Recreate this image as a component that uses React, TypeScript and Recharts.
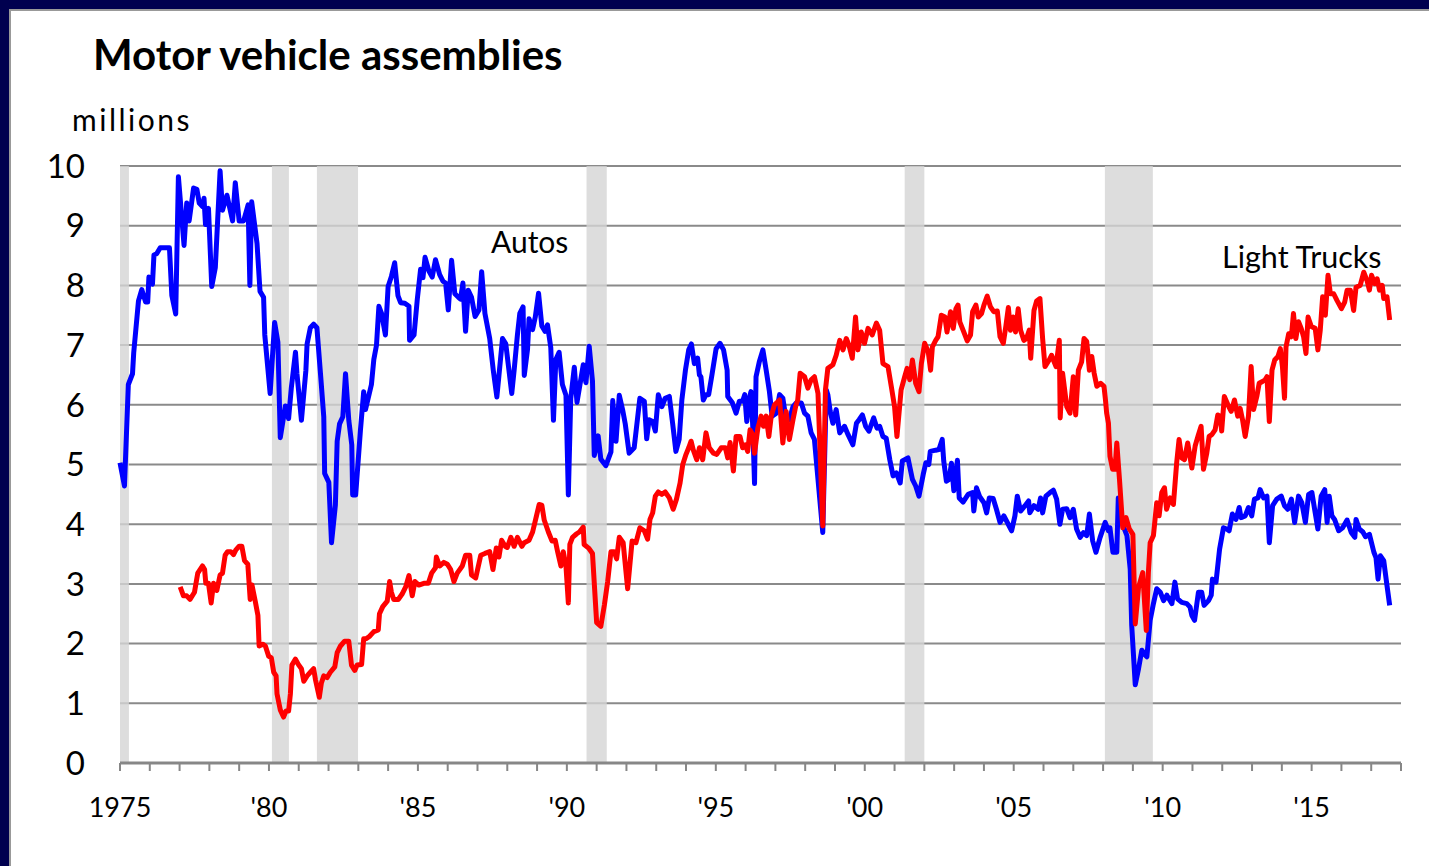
import { LineChart, Line, XAxis, YAxis, CartesianGrid, ReferenceArea } from 'recharts'

// [decimal year, millions of units]
const autos: [number, number][] = [
  [1975.0, 5.03], [1975.15, 4.64], [1975.28, 6.34], [1975.42, 6.52], [1975.46, 6.87], [1975.62, 7.74],
  [1975.73, 7.93], [1975.86, 7.72], [1975.93, 7.72], [1975.97, 8.14], [1976.09, 8.02], [1976.14, 8.51],
  [1976.23, 8.53], [1976.35, 8.63], [1976.66, 8.63], [1976.74, 7.83], [1976.87, 7.52], [1976.96, 9.82],
  [1977.15, 8.67], [1977.24, 9.38], [1977.32, 9.08], [1977.47, 9.63], [1977.58, 9.61], [1977.66, 9.38],
  [1977.77, 9.32], [1977.82, 9.46], [1977.87, 9.02], [1977.97, 9.29], [1978.08, 7.98], [1978.2, 8.3],
  [1978.36, 9.92], [1978.44, 9.26], [1978.59, 9.51], [1978.78, 9.08], [1978.87, 9.72], [1979.0, 9.08],
  [1979.15, 9.08], [1979.3, 9.35], [1979.36, 8.0], [1979.42, 9.4], [1979.6, 8.7], [1979.7, 7.9],
  [1979.82, 7.8], [1979.86, 7.17], [1980.04, 6.19], [1980.19, 7.38], [1980.3, 7.05], [1980.38, 5.45],
  [1980.55, 5.98], [1980.66, 5.77], [1980.75, 6.28], [1980.89, 6.88], [1980.94, 6.52], [1981.09, 5.74],
  [1981.24, 6.58], [1981.28, 7.02], [1981.39, 7.29], [1981.5, 7.35], [1981.61, 7.29], [1981.73, 6.52],
  [1981.84, 5.8], [1981.87, 4.85], [1982.01, 4.7], [1982.1, 3.69], [1982.23, 4.32], [1982.29, 5.39],
  [1982.37, 5.68], [1982.48, 5.8], [1982.57, 6.52], [1982.68, 5.74], [1982.78, 5.33], [1982.81, 4.49],
  [1982.91, 4.49], [1983.07, 5.57], [1983.18, 6.22], [1983.24, 5.92], [1983.44, 6.34], [1983.52, 6.76],
  [1983.61, 7.0], [1983.69, 7.65], [1983.78, 7.53], [1983.91, 7.17], [1984.0, 7.98], [1984.11, 8.15],
  [1984.22, 8.38], [1984.33, 7.83], [1984.42, 7.71], [1984.56, 7.7], [1984.7, 7.65], [1984.72, 7.08],
  [1984.87, 7.17], [1984.98, 7.77], [1985.09, 8.27], [1985.17, 8.13], [1985.24, 8.47], [1985.37, 8.24],
  [1985.48, 8.14], [1985.59, 8.43], [1985.73, 8.18], [1985.84, 8.07], [1985.93, 8.04], [1986.02, 7.59],
  [1986.13, 8.42], [1986.24, 7.86], [1986.36, 7.8], [1986.43, 7.77], [1986.51, 8.04], [1986.6, 7.23],
  [1986.69, 7.92], [1986.8, 7.8], [1986.92, 7.48], [1987.05, 7.59], [1987.14, 8.23], [1987.25, 7.53],
  [1987.41, 7.11], [1987.53, 6.58], [1987.65, 6.13], [1987.72, 6.49], [1987.84, 7.11], [1987.95, 7.02],
  [1988.15, 6.19], [1988.23, 6.58], [1988.34, 7.17], [1988.42, 7.53], [1988.53, 7.64], [1988.57, 6.49],
  [1988.68, 6.93], [1988.73, 7.44], [1988.85, 7.26], [1988.94, 7.47], [1989.05, 7.87], [1989.16, 7.32],
  [1989.27, 7.23], [1989.35, 7.34], [1989.46, 6.96], [1989.55, 5.74], [1989.63, 6.76], [1989.74, 6.88],
  [1989.85, 6.34], [1989.97, 6.16], [1990.05, 4.49], [1990.13, 6.1], [1990.25, 6.63], [1990.34, 6.04],
  [1990.44, 6.34], [1990.55, 6.67], [1990.64, 6.37], [1990.75, 6.98], [1990.86, 6.4], [1990.92, 5.15],
  [1991.05, 5.48], [1991.14, 5.09], [1991.31, 4.98], [1991.48, 5.21], [1991.54, 6.07], [1991.65, 5.39],
  [1991.76, 6.16], [1991.87, 5.92], [1991.96, 5.68], [1992.09, 5.19], [1992.26, 5.28], [1992.45, 6.11],
  [1992.6, 6.06], [1992.68, 5.43], [1992.76, 5.75], [1992.88, 5.72], [1992.97, 5.56], [1993.07, 6.17],
  [1993.19, 5.97], [1993.3, 6.11], [1993.44, 6.14], [1993.55, 5.69], [1993.66, 5.22], [1993.77, 5.42],
  [1993.86, 6.08], [1993.98, 6.58], [1994.09, 6.92], [1994.18, 7.02], [1994.28, 6.69], [1994.39, 6.78],
  [1994.45, 6.5], [1994.5, 6.47], [1994.58, 6.08], [1994.67, 6.17], [1994.76, 6.17], [1994.87, 6.5],
  [1995.01, 6.94], [1995.14, 7.03], [1995.26, 6.92], [1995.38, 6.58], [1995.4, 6.14], [1995.55, 6.04],
  [1995.68, 5.86], [1995.79, 6.06], [1995.9, 6.06], [1995.97, 6.17], [1996.04, 5.72], [1996.11, 6.08],
  [1996.18, 6.22], [1996.24, 5.64], [1996.3, 4.68], [1996.35, 6.47], [1996.46, 6.72], [1996.58, 6.92],
  [1996.69, 6.58], [1996.8, 6.22], [1996.89, 5.81], [1997.03, 5.86], [1997.14, 6.17], [1997.25, 6.11],
  [1997.36, 5.75], [1997.47, 5.75], [1997.59, 5.97], [1997.7, 6.03], [1997.87, 6.03], [1997.98, 5.86],
  [1998.09, 5.81], [1998.2, 5.53], [1998.31, 5.42], [1998.59, 3.86], [1998.71, 6.25], [1998.76, 6.17],
  [1998.84, 5.89], [1998.93, 5.69], [1999.04, 5.92], [1999.16, 5.53], [1999.32, 5.64], [1999.44, 5.5],
  [1999.6, 5.33], [1999.72, 5.69], [1999.81, 5.75], [1999.92, 5.83], [2000.03, 5.64], [2000.14, 5.56],
  [2000.3, 5.78], [2000.41, 5.61], [2000.5, 5.64], [2000.61, 5.47], [2000.72, 5.44], [2000.84, 5.08],
  [2000.95, 4.81], [2001.06, 4.86], [2001.19, 4.69], [2001.26, 5.06], [2001.45, 5.11], [2001.6, 4.75],
  [2001.71, 4.64], [2001.82, 4.47], [2001.96, 4.83], [2002.05, 5.03], [2002.15, 5.0], [2002.2, 5.22],
  [2002.38, 5.24], [2002.49, 5.25], [2002.6, 5.42], [2002.65, 5.06], [2002.74, 4.72], [2002.83, 4.75],
  [2002.91, 5.02], [2002.99, 4.56], [2003.11, 5.07], [2003.17, 4.44], [2003.3, 4.37], [2003.47, 4.5],
  [2003.62, 4.53], [2003.66, 4.22], [2003.75, 4.61], [2003.86, 4.46], [2004.0, 4.36], [2004.09, 4.19],
  [2004.18, 4.44], [2004.31, 4.43], [2004.42, 4.25], [2004.54, 4.03], [2004.67, 4.14], [2004.93, 3.89],
  [2005.04, 4.14], [2005.12, 4.47], [2005.23, 4.22], [2005.38, 4.31], [2005.5, 4.39], [2005.54, 4.19],
  [2005.68, 4.31], [2005.82, 4.25], [2005.9, 4.44], [2005.97, 4.19], [2006.08, 4.47], [2006.22, 4.53],
  [2006.33, 4.57], [2006.44, 4.42], [2006.55, 4.0], [2006.64, 4.25], [2006.78, 4.26], [2006.89, 4.11],
  [2007.0, 4.25], [2007.11, 3.92], [2007.23, 3.78], [2007.34, 3.86], [2007.45, 3.81], [2007.54, 4.17],
  [2007.65, 3.72], [2007.76, 3.53], [2007.9, 3.78], [2008.07, 4.03], [2008.18, 3.89], [2008.23, 3.94],
  [2008.33, 3.53], [2008.46, 3.53], [2008.51, 4.44], [2008.63, 4.03], [2008.8, 3.81], [2008.91, 3.25],
  [2008.96, 2.31], [2009.08, 1.31], [2009.19, 1.58], [2009.3, 1.89], [2009.41, 1.81], [2009.47, 1.78],
  [2009.58, 2.39], [2009.69, 2.67], [2009.8, 2.92], [2009.92, 2.86], [2010.03, 2.72], [2010.14, 2.81],
  [2010.31, 2.67], [2010.41, 3.03], [2010.5, 2.75], [2010.64, 2.69], [2010.81, 2.67], [2010.92, 2.61],
  [2010.98, 2.47], [2011.07, 2.39], [2011.2, 2.86], [2011.31, 2.86], [2011.39, 2.64], [2011.54, 2.72],
  [2011.63, 2.81], [2011.67, 3.08], [2011.79, 3.03], [2011.91, 3.58], [2012.04, 3.94], [2012.15, 3.92],
  [2012.23, 3.89], [2012.34, 4.17], [2012.46, 4.08], [2012.57, 4.28], [2012.63, 4.11], [2012.77, 4.14],
  [2012.88, 4.28], [2012.99, 4.14], [2013.08, 4.42], [2013.2, 4.44], [2013.27, 4.58], [2013.39, 4.44],
  [2013.5, 4.47], [2013.58, 3.69], [2013.69, 4.31], [2013.83, 4.42], [2013.98, 4.47], [2014.09, 4.31],
  [2014.2, 4.25], [2014.32, 4.42], [2014.43, 4.03], [2014.56, 4.47], [2014.67, 4.36], [2014.79, 4.03],
  [2014.9, 4.5], [2015.01, 4.53], [2015.12, 4.19], [2015.21, 3.92], [2015.32, 4.47], [2015.44, 4.58],
  [2015.52, 4.03], [2015.59, 4.47], [2015.68, 4.14], [2015.77, 4.08], [2015.91, 3.89], [2016.04, 3.94],
  [2016.19, 4.07], [2016.33, 3.86], [2016.45, 3.78], [2016.49, 4.08], [2016.6, 3.92], [2016.72, 3.87],
  [2016.81, 3.79], [2016.94, 3.83], [2017.09, 3.53], [2017.16, 3.44], [2017.23, 3.08], [2017.31, 3.47],
  [2017.42, 3.39], [2017.53, 2.97], [2017.62, 2.64],
]

const lightTrucks: [number, number][] = [
  [1977.02, 2.95], [1977.13, 2.8], [1977.24, 2.8], [1977.35, 2.74], [1977.5, 2.86], [1977.61, 3.18],
  [1977.77, 3.3], [1977.84, 3.24], [1977.88, 3.01], [1977.97, 3.01], [1978.06, 2.68], [1978.14, 3.01],
  [1978.25, 2.89], [1978.36, 3.15], [1978.44, 3.18], [1978.53, 3.48], [1978.61, 3.54], [1978.72, 3.54],
  [1978.81, 3.49], [1978.89, 3.57], [1979.0, 3.63], [1979.09, 3.63], [1979.18, 3.39], [1979.29, 3.33],
  [1979.37, 2.74], [1979.43, 2.98], [1979.54, 2.71], [1979.63, 2.47], [1979.67, 1.96], [1979.79, 1.99],
  [1979.88, 1.96], [1979.99, 1.79], [1980.08, 1.76], [1980.16, 1.52], [1980.24, 1.46], [1980.27, 1.16],
  [1980.38, 0.89], [1980.49, 0.77], [1980.57, 0.87], [1980.66, 0.87], [1980.72, 1.16], [1980.77, 1.64],
  [1980.89, 1.74], [1981.0, 1.64], [1981.09, 1.58], [1981.17, 1.37], [1981.28, 1.46], [1981.39, 1.52],
  [1981.5, 1.58], [1981.56, 1.4], [1981.69, 1.1], [1981.76, 1.34], [1981.84, 1.46], [1981.95, 1.43],
  [1982.06, 1.52], [1982.21, 1.61], [1982.29, 1.85], [1982.4, 1.96], [1982.54, 2.04], [1982.68, 2.04],
  [1982.77, 1.64], [1982.88, 1.55], [1982.96, 1.64], [1983.11, 1.65], [1983.18, 2.08], [1983.26, 2.08],
  [1983.37, 2.12], [1983.52, 2.2], [1983.67, 2.23], [1983.71, 2.5], [1983.82, 2.62], [1983.97, 2.71],
  [1984.05, 3.04], [1984.11, 2.86], [1984.19, 2.74], [1984.34, 2.74], [1984.47, 2.83], [1984.59, 2.95],
  [1984.7, 3.14], [1984.81, 2.8], [1984.9, 3.04], [1985.03, 2.98], [1985.2, 3.01], [1985.35, 3.01],
  [1985.46, 3.18], [1985.59, 3.27], [1985.62, 3.45], [1985.73, 3.3], [1985.87, 3.36], [1985.99, 3.33],
  [1986.1, 3.24], [1986.21, 3.04], [1986.32, 3.18], [1986.49, 3.3], [1986.6, 3.48], [1986.74, 3.48],
  [1986.8, 3.15], [1986.94, 3.1], [1987.11, 3.48], [1987.25, 3.51], [1987.41, 3.54], [1987.52, 3.24],
  [1987.63, 3.6], [1987.72, 3.45], [1987.81, 3.73], [1987.93, 3.63], [1988.0, 3.61], [1988.12, 3.78],
  [1988.23, 3.63], [1988.34, 3.78], [1988.49, 3.63], [1988.57, 3.69], [1988.73, 3.73], [1988.85, 3.87],
  [1988.98, 4.14], [1989.07, 4.33], [1989.16, 4.32], [1989.24, 4.07], [1989.38, 3.87], [1989.5, 3.72],
  [1989.61, 3.73], [1989.69, 3.54], [1989.8, 3.3], [1989.88, 3.54], [1989.97, 3.3], [1990.05, 2.68],
  [1990.1, 3.66], [1990.19, 3.78], [1990.33, 3.84], [1990.42, 3.87], [1990.55, 3.95], [1990.58, 3.66],
  [1990.73, 3.6], [1990.86, 3.51], [1991.0, 2.35], [1991.14, 2.29], [1991.26, 2.65], [1991.37, 3.04],
  [1991.48, 3.54], [1991.59, 3.54], [1991.67, 3.42], [1991.76, 3.78], [1991.89, 3.69], [1992.04, 2.92],
  [1992.19, 3.72], [1992.32, 3.69], [1992.45, 3.94], [1992.6, 3.89], [1992.71, 3.75], [1992.79, 4.08],
  [1992.88, 4.19], [1992.97, 4.47], [1993.07, 4.54], [1993.19, 4.5], [1993.3, 4.54], [1993.44, 4.44],
  [1993.57, 4.25], [1993.68, 4.42], [1993.8, 4.69], [1993.89, 5.0], [1994.0, 5.17], [1994.09, 5.28],
  [1994.17, 5.39], [1994.24, 5.25], [1994.36, 5.08], [1994.45, 5.28], [1994.56, 5.08], [1994.67, 5.53],
  [1994.78, 5.28], [1994.92, 5.19], [1995.03, 5.17], [1995.18, 5.28], [1995.32, 5.28], [1995.4, 5.11],
  [1995.48, 5.37], [1995.59, 4.89], [1995.68, 5.47], [1995.81, 5.47], [1995.9, 5.28], [1995.99, 5.33],
  [1996.07, 5.22], [1996.15, 5.58], [1996.24, 5.5], [1996.3, 5.19], [1996.41, 5.61], [1996.52, 5.81],
  [1996.6, 5.64], [1996.69, 5.81], [1996.78, 5.47], [1996.86, 5.81], [1996.97, 6.0], [1997.14, 6.08],
  [1997.25, 5.36], [1997.36, 5.89], [1997.47, 5.42], [1997.59, 5.75], [1997.68, 5.97], [1997.75, 6.08],
  [1997.83, 6.53], [1997.98, 6.47], [1998.09, 6.28], [1998.2, 6.42], [1998.31, 6.47], [1998.43, 6.19],
  [1998.59, 3.97], [1998.68, 6.25], [1998.76, 6.61], [1998.93, 6.67], [1999.04, 6.83], [1999.16, 7.08],
  [1999.27, 6.92], [1999.38, 7.11], [1999.47, 7.0], [1999.58, 6.78], [1999.69, 7.47], [1999.77, 6.92],
  [1999.88, 7.22], [1999.99, 7.03], [2000.11, 7.28], [2000.25, 7.17], [2000.39, 7.37], [2000.5, 7.25],
  [2000.61, 6.69], [2000.78, 6.64], [2000.89, 6.31], [2001.0, 5.97], [2001.08, 5.47], [2001.17, 5.97],
  [2001.22, 6.25], [2001.34, 6.47], [2001.42, 6.61], [2001.51, 6.42], [2001.6, 6.75], [2001.71, 6.36],
  [2001.82, 6.22], [2001.9, 6.69], [2002.01, 7.03], [2002.13, 6.89], [2002.21, 6.58], [2002.27, 6.97],
  [2002.38, 7.08], [2002.46, 7.14], [2002.57, 7.5], [2002.69, 7.47], [2002.76, 7.22], [2002.88, 7.56],
  [2002.97, 7.28], [2003.06, 7.61], [2003.13, 7.67], [2003.19, 7.39], [2003.3, 7.25], [2003.44, 7.07],
  [2003.55, 7.17], [2003.62, 7.56], [2003.73, 7.67], [2003.81, 7.47], [2003.92, 7.53], [2004.0, 7.67],
  [2004.11, 7.82], [2004.22, 7.64], [2004.33, 7.56], [2004.45, 7.57], [2004.54, 7.14], [2004.65, 7.03],
  [2004.74, 7.33], [2004.82, 7.63], [2004.89, 7.25], [2004.98, 7.47], [2005.06, 7.22], [2005.15, 7.61],
  [2005.23, 7.25], [2005.34, 7.08], [2005.43, 7.11], [2005.52, 7.25], [2005.57, 6.78], [2005.68, 7.58],
  [2005.77, 7.74], [2005.88, 7.78], [2005.97, 7.11], [2006.05, 6.64], [2006.19, 6.75], [2006.27, 6.83],
  [2006.42, 6.64], [2006.53, 7.08], [2006.56, 5.78], [2006.64, 6.53], [2006.78, 5.97], [2006.89, 5.86],
  [2007.0, 6.47], [2007.08, 5.83], [2007.17, 6.58], [2007.28, 6.72], [2007.36, 7.11], [2007.45, 7.06],
  [2007.54, 6.58], [2007.62, 6.81], [2007.7, 6.53], [2007.79, 6.31], [2007.92, 6.36], [2008.03, 6.31],
  [2008.08, 6.08], [2008.12, 5.86], [2008.18, 5.69], [2008.23, 5.14], [2008.32, 4.92], [2008.4, 4.92],
  [2008.46, 5.36], [2008.55, 4.75], [2008.66, 3.94], [2008.77, 4.11], [2008.88, 3.92], [2009.0, 3.83],
  [2009.08, 2.33], [2009.19, 2.94], [2009.33, 3.19], [2009.45, 2.22], [2009.52, 3.19], [2009.58, 3.69],
  [2009.69, 3.81], [2009.8, 4.36], [2009.88, 4.14], [2009.97, 4.53], [2010.06, 4.61], [2010.13, 4.25],
  [2010.25, 4.44], [2010.36, 4.33], [2010.47, 5.03], [2010.55, 5.42], [2010.64, 5.11], [2010.73, 5.08],
  [2010.84, 5.36], [2010.98, 4.94], [2011.09, 5.31], [2011.2, 5.5], [2011.29, 5.64], [2011.37, 4.92],
  [2011.48, 5.19], [2011.56, 5.47], [2011.65, 5.5], [2011.76, 5.58], [2011.85, 5.83], [2011.93, 5.81],
  [2011.98, 5.56], [2012.07, 6.14], [2012.19, 6.0], [2012.3, 5.89], [2012.41, 6.08], [2012.52, 5.81],
  [2012.6, 5.94], [2012.68, 5.75], [2012.77, 5.47], [2012.88, 5.81], [2012.97, 6.64], [2013.05, 5.92],
  [2013.16, 6.14], [2013.24, 6.36], [2013.35, 6.39], [2013.44, 6.42], [2013.5, 6.47], [2013.58, 5.72],
  [2013.67, 6.58], [2013.76, 6.75], [2013.87, 6.81], [2013.95, 6.94], [2014.02, 6.64], [2014.09, 6.11],
  [2014.14, 6.97], [2014.23, 7.19], [2014.32, 7.14], [2014.39, 7.53], [2014.47, 7.11], [2014.56, 7.39],
  [2014.65, 7.28], [2014.73, 7.14], [2014.81, 6.86], [2014.88, 7.47], [2014.99, 7.31], [2015.12, 7.28],
  [2015.21, 6.92], [2015.29, 7.25], [2015.37, 7.81], [2015.46, 7.5], [2015.55, 8.17], [2015.63, 7.86],
  [2015.74, 7.86], [2015.85, 7.75], [2016.0, 7.61], [2016.11, 7.72], [2016.19, 7.92], [2016.3, 7.92],
  [2016.41, 7.58], [2016.49, 7.97], [2016.63, 8.0], [2016.75, 8.22], [2016.86, 8.08], [2016.94, 7.92],
  [2017.01, 8.17], [2017.12, 8.03], [2017.2, 8.11], [2017.28, 7.92], [2017.37, 8.0], [2017.42, 7.78],
  [2017.53, 7.81], [2017.62, 7.42],
]

const recessions: [number, number][] = [
  [1975.0, 1975.3], [1980.1, 1980.67], [1981.61, 1982.99], [1990.66, 1991.34], [2001.34, 2002.0], [2008.06, 2009.67],
]

const yTicks = [0, 1, 2, 3, 4, 5, 6, 7, 8, 9, 10]
const labelYears = [1975, 1980, 1985, 1990, 1995, 2000, 2005, 2010, 2015]
const tickYears = Array.from({ length: 44 }, (_, i) => 1975 + i)

const toRows = (pts: [number, number][]) => pts.map(([t, v]) => ({ t, v }))

const fmtYear = (y: number) => {
  if (y === 1975) return '1975'
  if (labelYears.includes(y)) return "'" + String(y).slice(2)
  return ''
}

const font = 'Lato, "Noto Sans", sans-serif'

export default function App() {
  return (
    <div style={{ position: 'fixed', left: 0, top: 0, width: 1429, height: 866, background: '#00004f', overflow: 'hidden' }}>
      <div style={{ position: 'absolute', left: 9, top: 9, width: 1420, height: 857, background: '#999' }} />
      <div style={{ position: 'absolute', left: 11, top: 11, width: 1418, height: 855, background: '#fff' }} />
      <div style={{ position: 'absolute', left: 0, top: 0 }}>
        <LineChart width={1429} height={866} margin={{ top: 166, right: 28, bottom: 53, left: 60 }}>
          <CartesianGrid vertical={false} stroke="#8a8a8a" strokeWidth={2} />
          {recessions.map(([a, b]) => (
            <ReferenceArea key={a} x1={a} x2={b} fill="#d4d4d4" fillOpacity={0.8} stroke="none" />
          ))}
          <XAxis
            dataKey="t"
            type="number"
            domain={[1975, 2018]}
            ticks={tickYears}
            interval={0}
            tickFormatter={fmtYear}
            height={50}
            allowDuplicatedCategory={false}
            axisLine={{ stroke: '#878787', strokeWidth: 3 }}
            tickLine={{ stroke: '#878787', strokeWidth: 2 }}
            tickSize={8}
            tickMargin={27}
            tick={{ fill: '#000', fontSize: 27, fontFamily: font }}
          />
          <YAxis
            type="number"
            domain={[0, 10]}
            ticks={yTicks}
            width={60}
            axisLine={false}
            tickLine={false}
            tickSize={0}
            tickMargin={35}
            tick={{ fill: '#000', fontSize: 33, fontFamily: font }}
          />
          <Line data={toRows(autos)} dataKey="v" type="linear" stroke="#0000ff" strokeWidth={5} dot={false} strokeLinejoin="round" isAnimationActive={false} />
          <Line data={toRows(lightTrucks)} dataKey="v" type="linear" stroke="#ff0000" strokeWidth={5} dot={false} strokeLinejoin="round" isAnimationActive={false} />
        </LineChart>
      </div>
      <svg width={1429} height={866} style={{ position: 'absolute', left: 0, top: 0, pointerEvents: 'none' }}>
        <text x={93} y={70} fontFamily={font} fontWeight={700} fontSize={42} fill="#000">Motor vehicle assemblies</text>
        <text x={72} y={131} fontFamily={font} fontSize={30} letterSpacing={2.5} fill="#000">millions</text>
        <text x={491} y={253} fontFamily={font} fontSize={30} fill="#000">Autos</text>
        <text x={1222} y={268} fontFamily={font} fontSize={30.5} fill="#000">Light Trucks</text>
      </svg>
    </div>
  )
}
